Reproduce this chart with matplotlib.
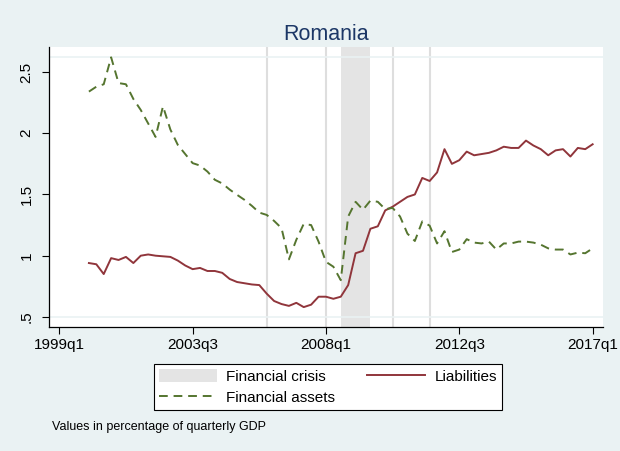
import numpy as np
import pandas as pd
import matplotlib
matplotlib.use("Agg")
import matplotlib.pyplot as plt

plt.rcParams['font.family'] = ['Liberation Sans', 'DejaVu Sans']

# quarterly data, values in percentage of quarterly GDP
quarters = pd.period_range("2000Q1", "2017Q1", freq="Q")

liabilities = [0.94, 0.93, 0.85, 0.98, 0.965, 0.99, 0.94, 1.0, 1.01, 1.0, 0.995, 0.99,
               0.96, 0.92, 0.89, 0.90, 0.875, 0.875, 0.86, 0.81, 0.785, 0.775, 0.765, 0.76,
               0.69, 0.63, 0.605, 0.59, 0.615, 0.58, 0.60, 0.665, 0.665, 0.648, 0.665, 0.76,
               1.02, 1.04, 1.22, 1.24, 1.37, 1.40, 1.44, 1.48, 1.50, 1.635, 1.61,
               1.68, 1.87, 1.75, 1.78, 1.85, 1.82, 1.83, 1.84, 1.86, 1.89, 1.88,
               1.88, 1.94, 1.90, 1.87, 1.82, 1.86, 1.87, 1.81, 1.88, 1.87, 1.91]

assets = [2.34, 2.38, 2.40, 2.62, 2.41, 2.40, 2.28, 2.19, 2.08, 1.97, 2.22, 2.03,
          1.905, 1.83, 1.756, 1.736, 1.687, 1.62, 1.59, 1.54, 1.497, 1.456, 1.407, 1.352,
          1.333, 1.284, 1.225, 0.97, 1.13, 1.26, 1.25, 1.115, 0.95, 0.91, 0.80, 1.32,
          1.44, 1.375, 1.45, 1.44, 1.38, 1.39, 1.32, 1.18, 1.12, 1.28, 1.245,
          1.10, 1.20, 1.03, 1.05, 1.135, 1.107, 1.10, 1.115, 1.05, 1.10, 1.10,
          1.115, 1.115, 1.107, 1.09, 1.06, 1.05, 1.05, 1.01, 1.025, 1.02, 1.06]

crisis_start = "2008Q3"
crisis_end = "2009Q3"
event_lines = ["2006Q1", "2008Q1", "2010Q2", "2011Q3"]
xtick_labels = ["1999q1", "2003q3", "2008q1", "2012q3", "2017q1"]
ytick_vals = [0.5, 1, 1.5, 2, 2.5]
ytick_labels = [".5", "1", "1.5", "2", "2.5"]


def qnum(p):
    # quarters since 1999q1
    p = pd.Period(p, freq="Q")
    return (p.year - 1999) * 4 + (p.quarter - 1)


x = [qnum(p) for p in quarters]
xticks = [qnum(s.replace("q", "Q")) for s in xtick_labels]

bg = "#EAF2F3"
fig = plt.figure(figsize=(6.2, 4.51), dpi=100, facecolor=bg)
ax = fig.add_axes([0.079, 0.2756, 0.8936, 0.6209])
ax.set_facecolor("white")

ax.axvspan(qnum(crisis_start), qnum(crisis_end), color="#E4E4E4", lw=0, zorder=1,
           label="Financial crisis")
for e in event_lines:
    ax.axvline(qnum(e), color="#DEDEDE", lw=1.5, zorder=1)
for yv in [0.5, max(assets)]:
    ax.axhline(yv, color=bg, lw=1.2, zorder=1)

ax.plot(x, liabilities, color="#90353B", lw=1.4, zorder=3, label="Liabilities")
ax.plot(x, assets, color="#55752F", lw=1.4, ls=(0, (4.5, 3)), zorder=3,
        label="Financial assets")

ax.set_xlim(-1.39, 73.4)
ax.set_ylim(0.42, 2.707)
ax.set_xticks(xticks)
ax.set_xticklabels(xtick_labels, fontsize=11)
ax.set_yticks(ytick_vals)
ax.set_yticklabels(ytick_labels, fontsize=11, rotation=90, va="center")
ax.tick_params(axis="x", length=5, width=0.8, color="black", pad=3)
ax.tick_params(axis="y", length=5, width=0.8, color="black", pad=6)
for s in ["top", "right"]:
    ax.spines[s].set_visible(False)
for s in ["left", "bottom"]:
    ax.spines[s].set_linewidth(0.9)

ax.set_title("Romania", fontsize=15.5, color="#1C3766", pad=5)

h, l = ax.get_legend_handles_labels()
order = [0, 2, 1]
leg = fig.legend([h[i] for i in order], [l[i] for i in order], ncol=2,
                 loc="upper center", bbox_to_anchor=(0.529, 0.21), fontsize=11,
                 frameon=True, fancybox=False, edgecolor="black", framealpha=1,
                 handlelength=3.8, handleheight=0.9, handletextpad=0.6,
                 columnspacing=2.1, borderpad=0.35, labelspacing=0.4)
leg.get_frame().set_linewidth(0.8)

fig.text(0.084, 0.047, "Values in percentage of quarterly GDP", fontsize=9)

fig.savefig("out.png", dpi=100, facecolor=bg)
